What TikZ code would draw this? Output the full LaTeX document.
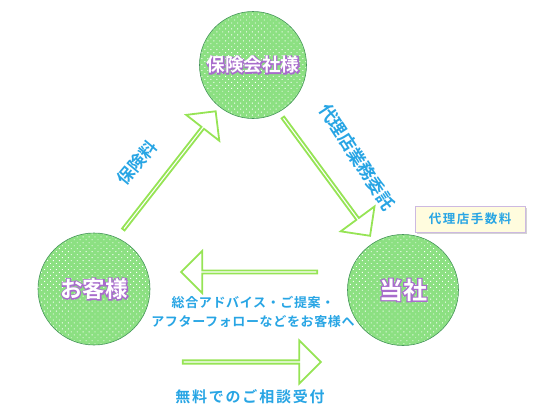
\documentclass[tikz,border=0pt]{standalone}
\usepackage{fontspec}
\setmainfont{Noto Sans CJK JP}[BoldFont={Noto Sans CJK JP Bold}]
\usetikzlibrary{shapes.arrows, patterns.meta, shadows, positioning}
\definecolor{partyfill}{RGB}{140,224,130}
\definecolor{partyline}{RGB}{70,150,90}
\definecolor{partytext}{RGB}{168,108,204}
\definecolor{flowblue}{RGB}{40,165,228}
\definecolor{arrowgreen}{RGB}{150,228,85}
\definecolor{notefill}{RGB}{255,252,222}
\definecolor{noteline}{RGB}{205,185,225}
% white letters on a violet edge
\newcommand\edged[1]{\rlap{\textcolor{partytext}{\addfontfeature{FakeBold=10}#1}}#1}

\begin{document}
\begin{tikzpicture}[
    x=1pt, y=-1pt,
    party/.style={circle, draw=partyline, line width=0.6pt, inner sep=0pt,
        preaction={fill=partyfill},
        pattern={Dots[distance=4.2pt, radius=0.65pt, angle=45]}, pattern color=white,
        text=white, font=\bfseries},
    blockarrow/.style={single arrow, draw=arrowgreen, line width=1.8pt, fill=white,
        inner sep=0pt, minimum width=42pt, single arrow head extend=11pt},
    flow/.style={text=flowblue, font=\bfseries, align=center, inner sep=0pt},
    fee/.style={draw=noteline, fill=notefill, line width=0.8pt, minimum width=110pt, minimum height=26pt,
        drop shadow={shadow xshift=1.5pt, shadow yshift=-1.5pt, opacity=0.35}}
]
    \useasboundingbox (0,0) rectangle (560,415);

    % 三者
    \node[party, minimum size=107pt, font=\fontsize{18.5}{20}\bfseries] (insurer) at (253,65) {\edged{保険会社様}};
    \node[party, minimum size=112pt, font=\fontsize{22.5}{24}\bfseries] (client) at (94,289) {\edged{お客様}};
    \node[party, minimum size=111pt, font=\fontsize{24}{25}\bfseries] (agency) at (403,290) {\edged{当社}};

    % 大きな矢印
    \node[blockarrow, minimum height=150pt, rotate=52] (premium) at (169,171) {};
    \node[blockarrow, minimum height=147pt, rotate=-53.6] (consign) at (326,176) {};
    \node[blockarrow, minimum height=136pt, rotate=180] (advice) at (250,272) {};
    \node[blockarrow, minimum height=138pt, minimum width=43pt] (consult) at (251,362) {};

    % ラベル
    \node[flow, rotate=50, font=\fontsize{17}{18}\bfseries] (premiumlbl) at (137,163) {保険料};
    \node[flow, rotate=-57, font=\fontsize{17.5}{18}\bfseries] (consignlbl) at (357,157) {代理店業務委託};
    \node[flow, font=\fontsize{13}{19}\bfseries\addfontfeature{LetterSpace=5}] (advicelbl) at (253,312)
        {総合アドバイス・ご提案・\\アフターフォローなどをお客様へ};
    \node[flow, font=\fontsize{15}{17}\bfseries\addfontfeature{LetterSpace=12}] (consultlbl) at (250,397) {無料でのご相談受付};
    \node[fee, flow, font=\fontsize{12.5}{14}\bfseries\addfontfeature{LetterSpace=12}] (feebox) at (470,219) {代理店手数料};
\end{tikzpicture}
\end{document}
